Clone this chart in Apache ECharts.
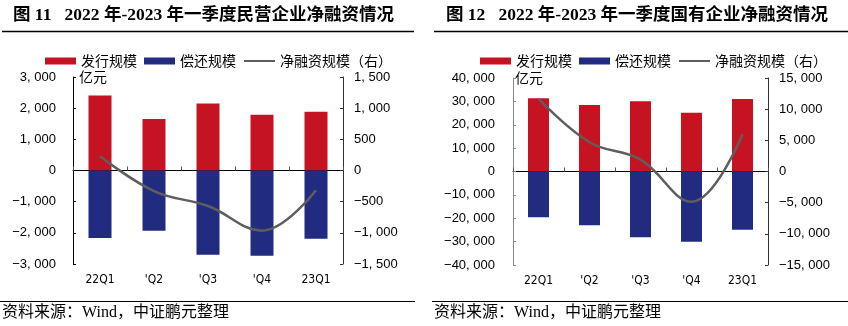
<!DOCTYPE html>
<html>
<head>
<meta charset="utf-8">
<script src="https://cdn.jsdelivr.net/npm/echarts@6/dist/echarts.min.js"></script>
<style>
  html, body { margin: 0; padding: 0; background: #fff; }
  #chart { width: 848px; height: 326px; }
</style>
</head>
<body>
<div id="chart"></div>
<script>
// Quarterly categories shared by both panels
const quarters = ['22Q1', "'Q2", "'Q3", "'Q4", '23Q1'];

// 图11 民营企业（亿元）
const privateIssue = [2410, 1655, 2150, 1790, 1885];
const privateRepay = [-2165, -1935, -2700, -2735, -2190];
const privateNet = [230, -330, -570, -965, -315];

// 图12 国有企业（亿元）
const stateIssue = [31300, 28400, 30100, 25100, 31000];
const stateRepay = [-19600, -23000, -28100, -30000, -24900];
const stateNet = [11700, 4700, 1900, -4850, 5950];

// Axis ranges and tick steps
const privateLeftAxis = { min: -3000, max: 3000, interval: 1000 };
const privateRightAxis = { min: -1500, max: 1500, interval: 500 };
const stateLeftAxis = { min: -40000, max: 40000, interval: 10000 };
const stateRightAxis = { min: -15000, max: 15000, interval: 5000 };

const seriesNames = ['发行规模', '偿还规模', '净融资规模（右）'];
const titles = ['图 11   2022 年-2023 年一季度民营企业净融资情况', '图 12   2022 年-2023 年一季度国有企业净融资情况'];
const sourceNote = '资料来源：Wind，中证鹏元整理';
const unitName = '亿元';

const RED = '#C51322';
const BLUE = '#212B80';
const GRAY = '#5E5E5E';
const NUM_FONT = '"Liberation Sans", Arial, sans-serif';
const CJK_FONT = '"Noto Sans CJK SC", sans-serif';
const SERIF_FONT = '"Liberation Serif", "Noto Sans CJK SC", serif';

function fmt(v) {
  const s = String(Math.abs(v)).replace(/\B(?=(\d{3})+(?!\d))/g, ', ');
  return (v < 0 ? '\u2212' : '') + s;
}

const grids = [
  { left: 73, top: 77, width: 270, height: 187 },
  { left: 513, top: 78, width: 255, height: 187 }
];

function xAxes(gridIndex) {
  return [
    {
      type: 'category', gridIndex, data: quarters, position: 'bottom',
      axisLine: { show: false, onZero: false },
      axisTick: { show: false },
      axisLabel: { margin: 10, color: '#000', fontSize: 12, fontFamily: '"Liberation Sans Narrow", "DejaVu Sans Condensed", "Liberation Sans", sans-serif' }
    },
    {
      type: 'category', gridIndex, data: quarters, position: 'bottom',
      axisLine: { show: true, onZero: true, lineStyle: { color: '#000', width: 1 } },
      axisTick: { show: true, inside: true, length: 4, lineStyle: { color: '#555' } },
      axisLabel: { show: false }
    }
  ];
}

function yAxis(gridIndex, range, position, lineColor, margin, name, namePad) {
  return {
    type: 'value', gridIndex, position,
    min: range.min, max: range.max, interval: range.interval,
    name: name || '',
    nameLocation: 'end', nameGap: 0,
    nameTextStyle: { align: 'left', verticalAlign: 'middle', fontSize: 14, color: '#000', fontFamily: CJK_FONT, padding: [0, 0, 0, namePad || 0] },
    splitLine: { show: false },
    axisLine: { show: true, onZero: false, lineStyle: { color: lineColor, width: 1 } },
    axisTick: { show: true, inside: true, length: 3, lineStyle: { color: lineColor } },
    axisLabel: { margin, color: '#000', fontSize: 13, fontFamily: NUM_FONT, formatter: fmt }
  };
}

function panelSeries(xBase, yBase, issue, repay, net, barW) {
  return [
    { name: seriesNames[0], type: 'bar', xAxisIndex: xBase, yAxisIndex: yBase, stack: 'flow' + xBase,
      data: issue, barWidth: barW, itemStyle: { color: RED } },
    { name: seriesNames[1], type: 'bar', xAxisIndex: xBase, yAxisIndex: yBase, stack: 'flow' + xBase,
      data: repay, barWidth: barW, itemStyle: { color: BLUE } },
    { name: seriesNames[2], type: 'line', xAxisIndex: xBase, yAxisIndex: yBase + 1,
      data: net, smooth: 0.4, symbol: 'none', showSymbol: false,
      lineStyle: { color: GRAY, width: 2.5 }, itemStyle: { color: GRAY }, z: 5 }
  ];
}

function legend(left) {
  return {
    left, top: 49, orient: 'horizontal',
    itemWidth: 31, itemHeight: 7, itemGap: 7,
    data: [
      { name: seriesNames[0], icon: 'rect' },
      { name: seriesNames[1], icon: 'rect' },
      { name: seriesNames[2], itemStyle: { opacity: 0 }, lineStyle: { color: GRAY, width: 2 } }
    ],
    textStyle: { fontSize: 14, color: '#000', fontFamily: CJK_FONT }
  };
}

const chart = echarts.init(document.getElementById('chart'), null, { renderer: 'canvas' });

chart.setOption({
  animation: false,
  backgroundColor: '#fff',
  title: [
    { text: titles[0], left: 13, top: 7, padding: 0,
      textStyle: { fontSize: 17.5, fontWeight: 'bold', color: '#000', fontFamily: SERIF_FONT } },
    { text: titles[1], left: 446, top: 7, padding: 0,
      textStyle: { fontSize: 17.5, fontWeight: 'bold', color: '#000', fontFamily: SERIF_FONT } }
  ],
  legend: [legend(40), legend(475)],
  grid: grids,
  xAxis: [...xAxes(0), ...xAxes(1)],
  yAxis: [
    yAxis(0, privateLeftAxis, 'left', '#000', 17, unitName, 6),
    yAxis(0, privateRightAxis, 'right', '#333', 11),
    yAxis(1, stateLeftAxis, 'left', '#888', 18, unitName, 2),
    yAxis(1, stateRightAxis, 'right', '#333', 11)
  ],
  series: [
    ...panelSeries(0, 0, privateIssue, privateRepay, privateNet, 23),
    ...panelSeries(2, 2, stateIssue, stateRepay, stateNet, 21)
  ],
  graphic: [
    { type: 'line', shape: { x1: 2, y1: 31.5, x2: 414, y2: 31.5 }, style: { stroke: '#000', lineWidth: 1.5 } },
    { type: 'line', shape: { x1: 434, y1: 31.5, x2: 848, y2: 31.5 }, style: { stroke: '#000', lineWidth: 1.5 } },
    { type: 'line', shape: { x1: 0, y1: 301.5, x2: 415, y2: 301.5 }, style: { stroke: '#000', lineWidth: 1.2 } },
    { type: 'line', shape: { x1: 432, y1: 301.5, x2: 848, y2: 301.5 }, style: { stroke: '#000', lineWidth: 1.2 } },
    { type: 'text', left: 2, top: 305, style: { text: sourceNote, fill: '#000', font: '16px ' + SERIF_FONT } },
    { type: 'text', left: 434, top: 305, style: { text: sourceNote, fill: '#000', font: '16px ' + SERIF_FONT } }
  ]
});
</script>
</body>
</html>
